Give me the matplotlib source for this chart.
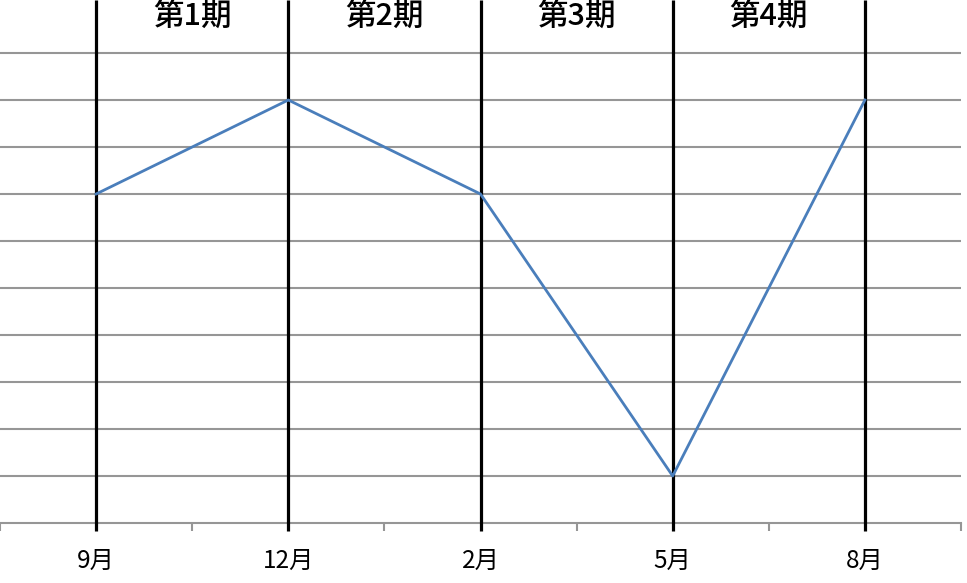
import numpy as np
import matplotlib.pyplot as plt

months = ['9月', '12月', '2月', '5月', '8月']
values = [7, 9, 7, 1, 9]
periods = ['第1期', '第2期', '第3期', '第4期']

plt.rcParams['font.family'] = ['Noto Sans CJK JP', 'DejaVu Sans']

fig = plt.figure(figsize=(9.67, 5.83), dpi=100)
ax = fig.add_axes([0, 60 / 583, 961 / 967, 523 / 583])

x = np.arange(len(months))
ymax = 523 / 47

# horizontal gridlines
for g in range(1, 11):
    ax.axhline(g, color='#969696', lw=1.5, zorder=1)

# period separators
ax.vlines(x, -0.17, ymax, colors='black', lw=2.3, clip_on=False, zorder=3)

ax.plot(x, values, color='#4A7EBB', lw=2.0, zorder=4)

for i, p in enumerate(periods):
    ax.text(i + 0.5, 10.76, p, ha='center', va='center', fontsize=22,
            fontweight='medium')

ax.set_xlim(-0.5, len(months) - 0.5)
ax.set_ylim(0, ymax)
ax.set_xticks(x)
ax.set_xticklabels(months, fontsize=17.5)
ax.set_xticks(np.arange(-0.5, len(months)), minor=True)
ax.tick_params(axis='x', which='major', length=0, pad=18)
ax.tick_params(axis='x', which='minor', length=6, width=1.5, color='#969696')
ax.set_yticks([])
for s in ['left', 'right', 'top']:
    ax.spines[s].set_visible(False)
ax.spines['bottom'].set_color('#969696')
ax.spines['bottom'].set_linewidth(1.5)

fig.savefig('out.png', dpi=100)
